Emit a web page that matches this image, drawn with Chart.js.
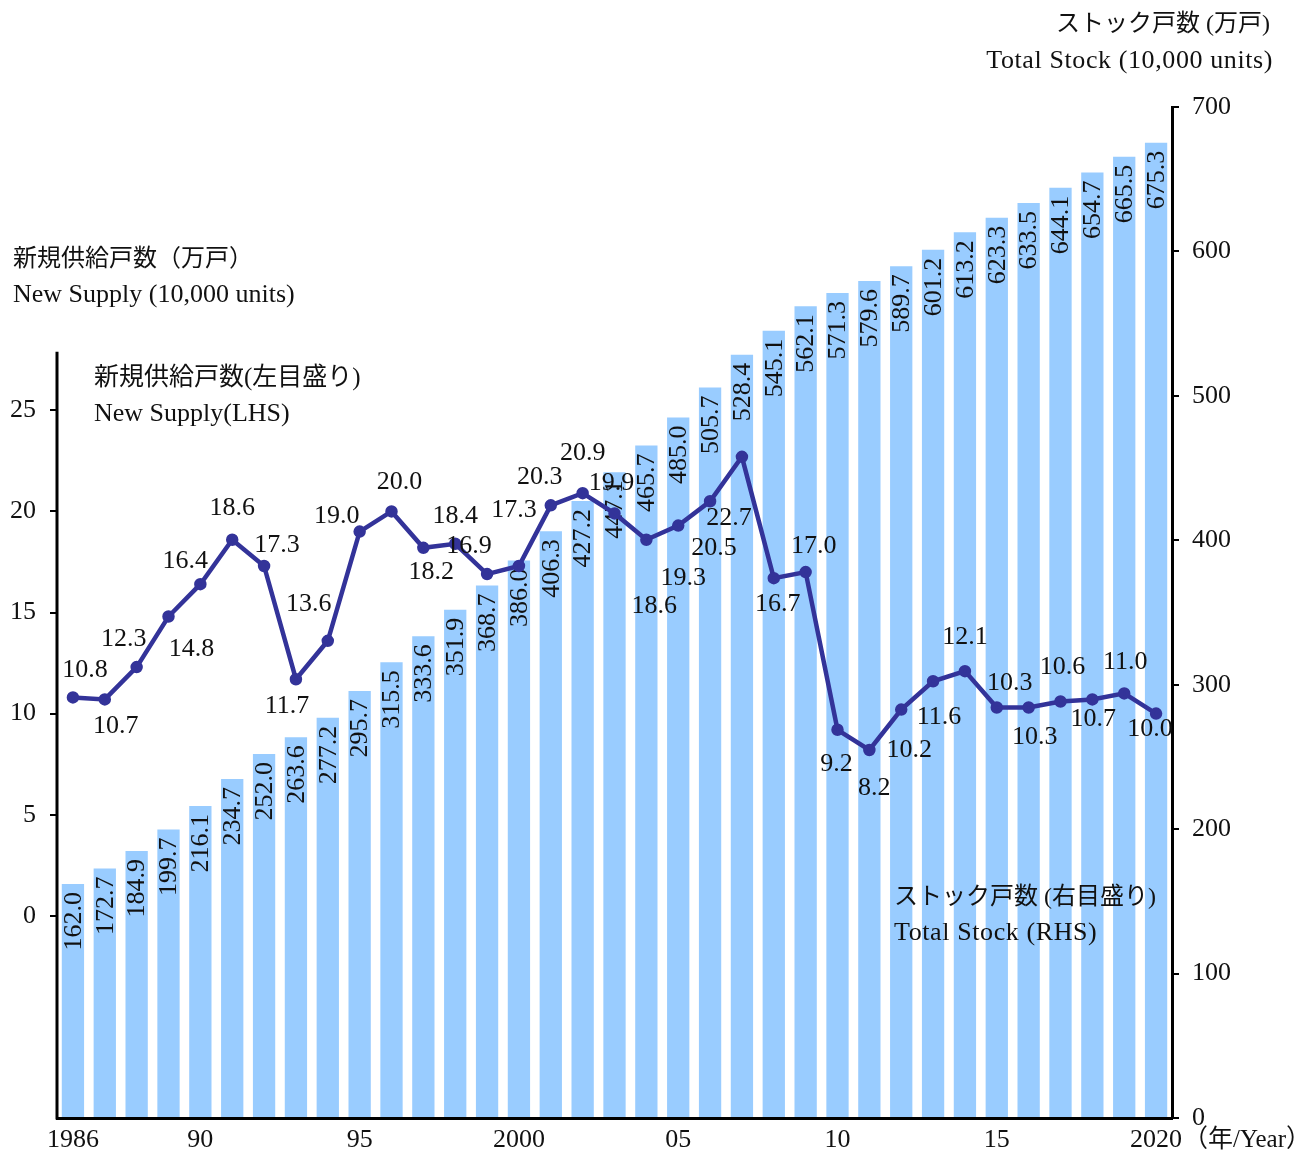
<!DOCTYPE html>
<html>
<head>
<meta charset="utf-8">
<script src="https://cdn.jsdelivr.net/npm/chart.js@4.4.1/dist/chart.umd.min.js"></script>
<style>
  html, body { margin: 0; padding: 0; background: #fff; }
</style>
</head>
<body>
<canvas id="stockChart" width="1310" height="1153"></canvas>
<script>
// years on the x axis
const years = [1986, 1987, 1988, 1989, 1990, 1991, 1992, 1993, 1994, 1995,
  1996, 1997, 1998, 1999, 2000, 2001, 2002, 2003, 2004, 2005,
  2006, 2007, 2008, 2009, 2010, 2011, 2012, 2013, 2014, 2015,
  2016, 2017, 2018, 2019, 2020];

// total stock (10,000 units) - right axis
const stock = [162.0, 172.7, 184.9, 199.7, 216.1, 234.7, 252.0, 263.6, 277.2, 295.7,
  315.5, 333.6, 351.9, 368.7, 386.0, 406.3, 427.2, 447.1, 465.7, 485.0,
  505.7, 528.4, 545.1, 562.1, 571.3, 579.6, 589.7, 601.2, 613.2, 623.3,
  633.5, 644.1, 654.7, 665.5, 675.3];

// new supply (10,000 units) - left axis
const supply = [10.8, 10.7, 12.3, 14.8, 16.4, 18.6, 17.3, 11.7, 13.6, 19.0,
  20.0, 18.2, 18.4, 16.9, 17.3, 20.3, 20.9, 19.9, 18.6, 19.3,
  20.5, 22.7, 16.7, 17.0, 9.2, 8.2, 10.2, 11.6, 12.1, 10.3,
  10.3, 10.6, 10.7, 11.0, 10.0];

// which years get a label on the x axis
const tickYears = [1986, 1990, 1995, 2000, 2005, 2010, 2015, 2020];
const tickText = ['1986', '90', '95', '2000', '05', '10', '15', '2020'];

// where each supply label sits relative to its point (px)
const supplyLabelShift = [
  [12, -27], [11, 27], [-13, -28], [23, 33], [-15, -23], [0, -32], [13, -21], [-9, 27], [-19, -37], [-23, -15],
  [8, -29], [8, 24], [0, -28], [-18, -28], [-5, -56], [-11, -28], [0, -40], [-3, -30], [8, 66], [5, 53],
  [4, 47], [-13, 61], [4, 26], [8, -26], [-1, 34], [5, 38], [8, 41], [6, 36], [0, -34], [13, -24],
  [6, 30], [2, -34], [1, 20], [1, -31], [-6, 16]
];

const FONT = '"Liberation Serif", "Noto Sans CJK JP", serif';
const INK = '#111';

const barLabels = {
  id: 'barLabels',
  afterDatasetDraw(chart, args) {
    if (args.index !== 0) return;
    const c = chart.ctx;
    const meta = chart.getDatasetMeta(0);
    c.save();
    c.font = '26px ' + FONT;
    c.fillStyle = INK;
    c.textAlign = 'right';
    c.textBaseline = 'middle';
    meta.data.forEach((bar, i) => {
      c.save();
      c.translate(bar.x, bar.y + 8);
      c.rotate(-Math.PI / 2);
      c.fillText(stock[i].toFixed(1), 0, 1);
      c.restore();
    });
    c.restore();
  }
};

const extras = {
  id: 'extras',
  beforeDatasetsDraw(chart) {
    const c = chart.ctx;
    const yL = chart.scales.yL;
    const area = chart.chartArea;
    c.save();
    c.strokeStyle = '#000';
    c.lineWidth = 3;
    c.beginPath();
    c.moveTo(area.left, yL.getPixelForValue(27.9));
    c.lineTo(area.left, area.bottom + 1.5);
    c.stroke();
    c.restore();
  },
  afterDatasetsDraw(chart) {
    const c = chart.ctx;
    const meta = chart.getDatasetMeta(1);
    c.save();
    c.font = '26px ' + FONT;
    c.fillStyle = INK;
    c.textAlign = 'center';
    c.textBaseline = 'middle';
    meta.data.forEach((pt, i) => {
      const s = supplyLabelShift[i];
      c.fillText(supply[i].toFixed(1), pt.x + s[0], pt.y + s[1]);
    });
    c.restore();
  },
  afterDraw(chart) {
    const c = chart.ctx;
    c.save();
    c.fillStyle = INK;
    c.textBaseline = 'middle';
    c.font = '24px ' + FONT;
    c.textAlign = 'right';
    c.fillText('ストック戸数 (万戸)', 1270, 25);
    c.textAlign = 'left';
    c.fillText('新規供給戸数（万戸）', 13, 260);
    c.fillText('ストック戸数 (右目盛り)', 894, 898);
    c.font = '25px ' + FONT;
    c.fillText('新規供給戸数(左目盛り)', 94, 378);
    c.fillText('（年/Year）', 1183, 1140);
    c.font = '26px ' + FONT;
    c.textAlign = 'right';
    c.letterSpacing = '0.6px';
    c.fillText('Total Stock (10,000 units)', 1273, 61);
    c.textAlign = 'left';
    c.letterSpacing = '0px';
    c.fillText('New Supply (10,000 units)', 13, 295);
    c.fillText('New Supply(LHS)', 94, 414);
    c.letterSpacing = '0.6px';
    c.fillText('Total Stock (RHS)', 894, 933);
    c.restore();
  }
};

new Chart(document.getElementById('stockChart'), {
  type: 'bar',
  data: {
    labels: years,
    datasets: [{
      type: 'bar',
      label: 'ストック戸数',
      data: stock,
      yAxisID: 'yR',
      backgroundColor: '#99CCFF',
      barPercentage: 0.7,
      categoryPercentage: 1,
      order: 2
    }, {
      type: 'line',
      label: '新規供給戸数',
      data: supply,
      yAxisID: 'yL',
      borderColor: '#333399',
      backgroundColor: '#333399',
      borderWidth: 4.5,
      pointRadius: 4,
      pointHoverRadius: 4,
      tension: 0,
      fill: false,
      order: 1
    }]
  },
  options: {
    responsive: false,
    animation: false,
    layout: { padding: { top: 107, left: 0, right: 0, bottom: 0 } },
    plugins: {
      legend: { display: false },
      tooltip: { enabled: false }
    },
    scales: {
      x: {
        position: 'bottom',
        grid: { display: false, drawTicks: false },
        border: { display: true, color: '#000', width: 3 },
        ticks: {
          autoSkip: false,
          maxRotation: 0,
          padding: 7,
          color: INK,
          font: { family: FONT, size: 26 },
          callback: function (v, i) {
            const k = tickYears.indexOf(years[i]);
            return k >= 0 ? tickText[k] : '';
          }
        },
        afterFit: s => { s.height = 35; }
      },
      yL: {
        position: 'left',
        min: -10,
        max: 40,
        grid: {
          drawOnChartArea: false,
          drawTicks: true,
          tickLength: 7,
          lineWidth: 2,
          color: c => (c.tick && c.tick.value >= 0 && c.tick.value <= 25) ? '#000' : 'rgba(0,0,0,0)'
        },
        border: { display: false },
        ticks: {
          stepSize: 5,
          padding: 14,
          color: INK,
          font: { family: FONT, size: 26 },
          callback: v => (v >= 0 && v <= 25) ? String(v) : null
        },
        afterFit: s => { s.width = 57; }
      },
      yR: {
        position: 'right',
        min: 0,
        max: 700,
        grid: {
          drawOnChartArea: false,
          drawTicks: true,
          tickLength: 7,
          lineWidth: 2,
          color: '#000'
        },
        border: { display: true, color: '#000', width: 3 },
        ticks: {
          stepSize: 100,
          padding: 13,
          color: INK,
          font: { family: FONT, size: 26 }
        },
        afterFit: s => { s.width = 138; }
      }
    }
  },
  plugins: [barLabels, extras]
});
</script>
</body>
</html>
